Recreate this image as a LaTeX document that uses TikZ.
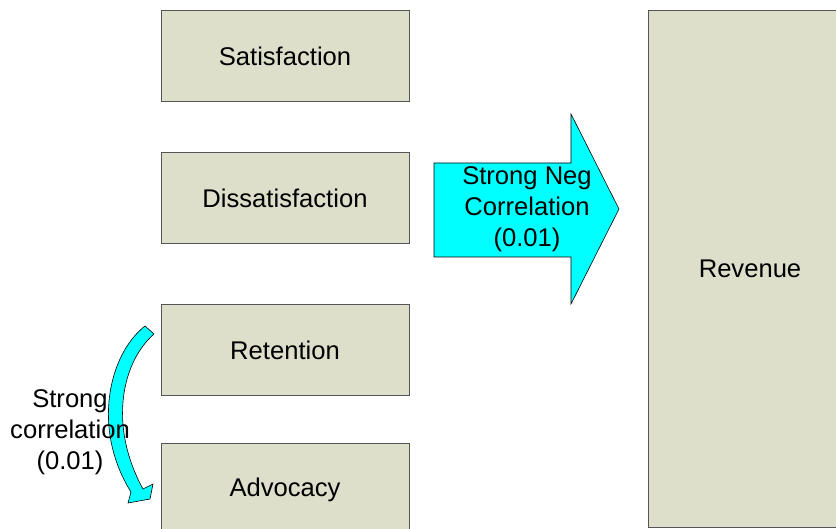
\documentclass[tikz,border=0pt]{standalone}
\usepackage{fontspec}
\setmainfont{Liberation Sans}
\definecolor{boxfill}{RGB}{221,223,203}
\definecolor{boxline}{RGB}{85,85,85}
\definecolor{arrowcyan}{RGB}{0,255,255}
\begin{document}
\begin{tikzpicture}[x=1pt,y=-1pt,
  box/.style={draw=boxline, line width=1pt, fill=boxfill, inner sep=0pt,
    minimum width=248pt, minimum height=91pt, font=\fontsize{25.6}{30}\selectfont},
  bigtext/.style={align=center, inner sep=0pt, font=\fontsize{25.6}{31}\selectfont},
  cyanshape/.style={fill=arrowcyan, draw=black, line width=0.6pt, line join=miter}]
\useasboundingbox (0,0) rectangle (836,529);
\begin{scope}
\clip (0,0) rectangle (836,529);
\node[box] (sat) at (285,56.5) {Satisfaction};
\node[box] (dis) at (285,198.5) {Dissatisfaction};
\node[box] (ret) at (285,350.5) {Retention};
\node[box] (adv) at (285,489.5) {Advocacy};
\node[box, minimum width=204pt, minimum height=516pt] (rev) at (750,269) {Revenue};
% big block arrow
\draw[cyanshape] (434,163) -- (571,163) -- (571,114) -- (619,209) -- (571,304) -- (571,257) -- (434,257) -- cycle;
\node[bigtext] (neg) at (527,209) {Strong Neg\\Correlation\\(0.01)};
% curved arrow
\draw[cyanshape] (145,326) .. controls (108,355) and (92,430) .. (131,492)
  -- (128,503) -- (150,499) -- (153,484) -- (143,489)
  .. controls (108,425) and (122,362) .. (154,334) -- cycle;
\node[bigtext] (cor) at (70,432) {Strong\\correlation\\(0.01)};
\end{scope}
\end{tikzpicture}
\end{document}
